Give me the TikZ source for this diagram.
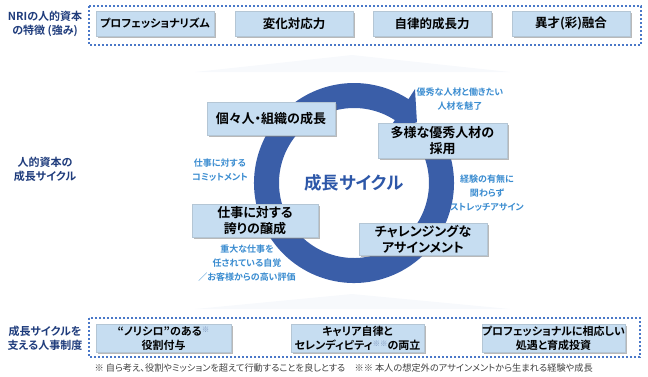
\documentclass[tikz,border=0pt]{standalone}
\usepackage{fontspec}
\setmainfont{Noto Sans CJK JP}[BoldFont={Noto Sans CJK JP Bold},RawFeature={+palt}]
\usepackage{tikz}
\usetikzlibrary{shadows}
\definecolor{navy}{HTML}{1F3C7C}
\definecolor{ringblue}{HTML}{3A5EA8}
\definecolor{titleblue}{HTML}{2D57A8}
\definecolor{boxfill}{HTML}{C6DDF1}
\definecolor{frameblue}{HTML}{4A78C8}
\definecolor{noteblue}{HTML}{3A8CD0}
\definecolor{chev}{HTML}{CCD7EC}
\definecolor{markgray}{HTML}{7A93BC}
\newcommand{\kome}[1]{\raisebox{3.5pt}{\fontsize{7.5}{8}\selectfont\textcolor{markgray}{#1}}}

\begin{document}
\begin{tikzpicture}[x=1pt,y=-1pt,
  sbox/.style={fill=boxfill,draw=boxfill!75!gray,line width=0.4pt,align=center,inner sep=0pt,
    drop shadow={shadow xshift=1.8pt,shadow yshift=-1.8pt,fill=black!50,opacity=0.55}},
  featbox/.style={sbox,minimum width=118,minimum height=25,font=\bfseries\fontsize{12.5}{14}\selectfont},
  cycbox/.style={sbox,minimum height=33,font=\bfseries\fontsize{13}{16}\selectfont},
  hrbox/.style={sbox,minimum height=28,font=\bfseries\fontsize{11}{14}\selectfont},
  sidelab/.style={align=center,text=navy,font=\bfseries\fontsize{11}{14}\selectfont},
  note/.style={align=center,text=noteblue,font=\bfseries\fontsize{9}{14}\selectfont},
  dashframe/.style={draw=frameblue,line width=1.1pt,dash pattern=on 2.2pt off 1.8pt}]
  \useasboundingbox (0,0) rectangle (648,376);
  \node[sidelab] (lblfeat) at (45,24) {NRIの人的資本\\の特徴 (強み)};
  \node[sidelab] (lblcycle) at (45,169) {人的資本の\\成長サイクル};
  \node[sidelab] (lblhr) at (45,338) {成長サイクルを\\支える人事制度};
  \draw[dashframe] (89,6) rectangle (641,45);
  \foreach \x/\t/\s [count=\i] in {155/プロフェッショナリズム/11,294/変化対応力/12.5,432/自律的成長力/12.5,571/異才(彩)融合/12.5}
    \node[featbox,font=\bfseries\fontsize{\s}{14}\selectfont] (feat\i) at (\x,23.5) {\t};
  \shade[left color=chev!15,middle color=chev,right color=chev!15] (195,72) -- (352,55) -- (510,72) -- cycle;
  \shade[left color=chev!15,middle color=chev,right color=chev!15] (195,309) -- (352,294) -- (510,309) -- cycle;
  \coordinate (c) at (354,183);
  \fill[ringblue] ([shift={(-20:100)}]c) arc[start angle=-20,end angle=303,radius=100]
    -- ([shift={(303:112)}]c) -- ([shift={(316:87.5)}]c) -- ([shift={(303:63)}]c)
    -- ([shift={(303:75)}]c) arc[start angle=303,end angle=-20,radius=75] -- cycle;
  \node[text=titleblue,font=\bfseries\fontsize{17.5}{20}\selectfont] (title) at (c) {成長サイクル};
  \node[cycbox,minimum width=128] (growth) at (271,118.5) {個々人・組織の成長};
  \node[cycbox,minimum width=129,minimum height=35] (hire) at (442.5,140.5) {多様な優秀人材の\\採用};
  \node[cycbox,minimum width=126] (pride) at (255,220.5) {仕事に対する\\誇りの醸成};
  \node[cycbox,minimum width=128,minimum height=32] (assign) at (423,239) {チャレンジングな\\アサインメント};
  \node[note] (n1) at (460,99.5) {優秀な人材と働きたい\\人材を魅了};
  \node[note] (n2) at (487,193) {経験の有無に\\関わらず\\ストレッチアサイン};
  \node[note] (n3) at (220,170.5) {仕事に対する\\コミットメント};
  \node[note] (n4) at (247,263.5) {重大な仕事を\\任されている自覚\\／お客様からの高い評価};
  \draw[dashframe] (89,318) rectangle (640,357);
  \node[hrbox,minimum width=135] (role) at (163.5,338.5) {“ノリシロ”のある\kome{※}\\役割付与};
  \node[hrbox,minimum width=133] (career) at (357.5,338.5) {キャリア自律と\\セレンディピティ\kome{※※}の両立};
  \node[hrbox,minimum width=139] (invest) at (553.5,338.5) {プロフェッショナルに相応しい\\処遇と育成投資};
  \node[anchor=west,text=black!75,font=\fontsize{9.2}{10}\selectfont] (foot) at (91,368)
    {※ 自ら考え、役割やミッションを超えて行動することを良しとする　※※ 本人の想定外のアサインメントから生まれる経験や成長};
\end{tikzpicture}
\end{document}
